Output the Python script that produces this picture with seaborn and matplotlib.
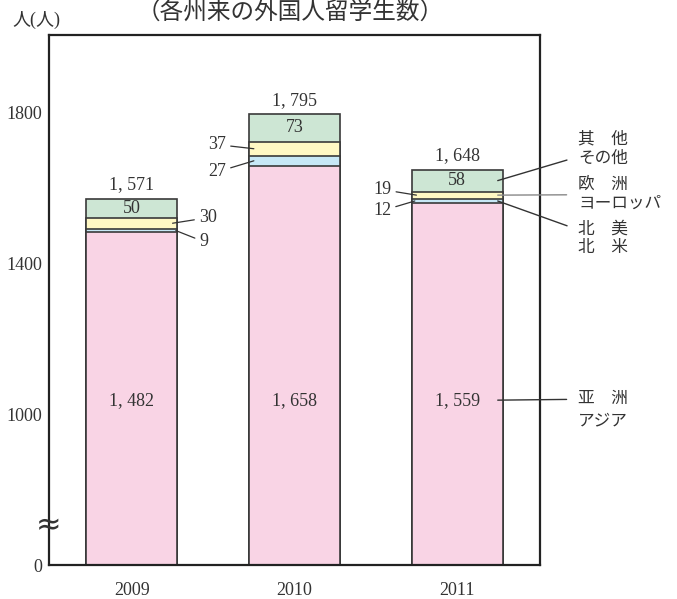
import numpy as np
import pandas as pd
import matplotlib
matplotlib.use("Agg")
import matplotlib.pyplot as plt
import matplotlib.transforms as mtransforms
import seaborn as sns

# %%
# data
years = ["2009", "2010", "2011"]
asia = [1482, 1658, 1559]
north_america = [9, 27, 12]
europe = [30, 37, 19]
other = [50, 73, 58]
totals = [1571, 1795, 1648]

region_names = ["亚　洲", "北　美\n北　米", "欧　洲\nヨーロッパ", "其　他\nその他"]
asia_second_line = "アジア"
title = "（各州来の外国人留学生数）"
unit = "人(人)"
y_ticks = [600, 800, 1000, 1200, 1400, 1600, 1800]
y_tick_labels = ["0", "", "1000", "", "1400", "", "1800"]

# %%
sns.set_style("white")
plt.rcParams["font.family"] = ["Liberation Serif", "Noto Sans CJK JP", "DejaVu Sans"]
plt.rcParams["text.color"] = "#333333"

df = pd.DataFrame({"year": years, "asia": asia, "na": north_america,
                   "eu": europe, "other": other})
df["c1"] = df["asia"]
df["c2"] = df["c1"] + df["na"]
df["c3"] = df["c2"] + df["eu"]
df["c4"] = df["c3"] + df["other"]

pink = "#f9d4e5"
blue = "#c7e8f6"
yellow = "#fff8c4"
green = "#cde6d4"
edge = "#3a3a3a"

fig = plt.figure(figsize=(6.77, 5.99), dpi=100)
ax = fig.add_axes([49 / 677, 1 - 565 / 599, 491 / 677, 530 / 599])

bw = 0.56
# stacked bars drawn back to front
for col, c in [("c4", green), ("c3", yellow), ("c2", blue), ("c1", pink)]:
    sns.barplot(data=df, x="year", y=col, color=c, saturation=1, width=bw,
                edgecolor=edge, linewidth=1.2, errorbar=None, ax=ax)

ax.set_xlim(-0.51, 2.51)
ax.set_ylim(600, 2005)  # broken axis: the "0" sits where 600 would be
ax.set_yticks(y_ticks)
ax.set_yticklabels(y_tick_labels)
ax.set_xlabel("")
ax.set_ylabel("")
ax.tick_params(axis="y", direction="in", length=6, width=1.2, pad=5,
               labelsize=13, colors="#333333")
ax.tick_params(axis="x", length=0, pad=12, labelsize=13, colors="#333333")
for s in ax.spines.values():
    s.set_linewidth(1.6)
    s.set_color("#222222")

fmt = lambda v: f"{v:,}".replace(",", ", ")

# totals and inner labels
for i in range(len(years)):
    ax.annotate(fmt(totals[i]), xy=(i, totals[i]), xytext=(0, 4),
                textcoords="offset points", ha="center", va="bottom", fontsize=13)
    ax.text(i, df["c3"][i] + other[i] / 2, str(other[i]), ha="center", va="center",
            fontsize=13)
    ax.text(i, 1035, fmt(asia[i]), ha="center", va="center", fontsize=13)

# small segment callouts
line_kw = dict(arrowstyle="-", color="#333333", lw=0.9, shrinkA=1, shrinkB=0)
callouts = [
    (0, "eu", 0.25, (19, 4), "left"),
    (0, "na", 0.27, (17, -8), "left"),
    (1, "eu", -0.25, (-20, 3), "right"),
    (1, "na", -0.25, (-20, -8), "right"),
    (2, "eu", -0.25, (-18, 4), "right"),
    (2, "na", -0.26, (-17, -7), "right"),
]
for i, key, dx, off, ha in callouts:
    base = df["c2"][i] if key == "eu" else df["c1"][i]
    mid = base + df[key][i] / 2
    ax.annotate(str(df[key][i]), xy=(i + dx, mid), xytext=off,
                textcoords="offset points", ha=ha, va="center", fontsize=13,
                arrowprops=line_kw, annotation_clip=False)

# region labels on the right
i = 2
anchors = [1037, df["c1"][i] + north_america[i] / 2,
           df["c2"][i] + europe[i] / 2, df["c3"][i] + other[i] / 2]
text_y = [1040, 1465, 1582, 1702]
line_cols = ["#333333", "#333333", "#888888", "#333333"]
for name, ya, yt, lc in zip(region_names, anchors, text_y, line_cols):
    ax.annotate(name, xy=(i + 0.25, ya), xytext=(2.745, yt), ha="left", va="center",
                fontsize=12, linespacing=1.25, annotation_clip=False,
                arrowprops=dict(arrowstyle="-", color=lc, lw=1.0, shrinkA=6, shrinkB=0))
ax.annotate(asia_second_line, xy=(2.745, 1040), xytext=(0, -16),
            textcoords="offset points", ha="left", va="center", fontsize=12,
            annotation_clip=False)

# axis break mark
trans = mtransforms.blended_transform_factory(ax.transAxes, ax.transData)
ax.text(0, 704, "≈", transform=trans, ha="center", va="center", fontsize=22,
        family="DejaVu Sans", color="#333333", clip_on=False)

fig.text(36 / 677, 1 - 20 / 599, unit, ha="center", va="center", fontsize=13)
fig.text(290 / 677, 1 - 1 / 599, title, ha="center", va="top", fontsize=17)

fig.savefig("out.png", dpi=100)
